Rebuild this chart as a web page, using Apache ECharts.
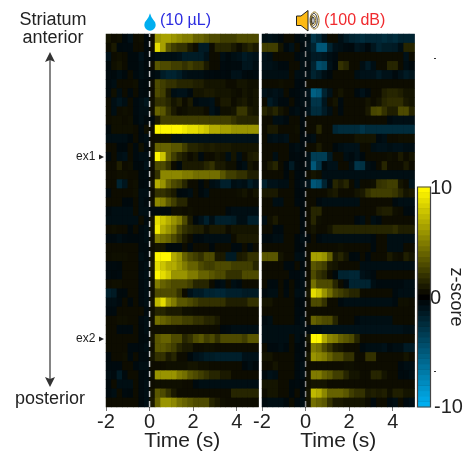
<!DOCTYPE html>
<html><head><meta charset="utf-8">
<style>html,body{margin:0;padding:0;background:#fff}#c{width:466px;height:454px}</style>
<script src="https://cdn.jsdelivr.net/npm/echarts@6/dist/echarts.min.js"></script>
</head><body><div id="c"></div>
<script>
// time-bin labels (start of each 0.25 s bin)
const timeBins = ['-2','-1.75','-1.5','-1.25','-1','-0.75','-0.5','-0.25','0','0.25','0.5','0.75','1','1.25','1.5','1.75','2','2.25','2.5','2.75','3','3.25','3.5','3.75','4','4.25','4.5','4.75'];
const xTicks = [-2, 0, 2, 4];
const barLabels = ['10', '0', '-10'];
// one row per striatal site, anterior to posterior; z-score
const waterZ = [
[.8,.5,.6,-.5,-1,.5,.6,-.5, .5,6,6.5,6.5,6,5.5,5,5,4,4,3.5,3,3,2.5,2.5,2.5,3,3,3,3],
[.5,1,-.5,-.6,-.6,.5,.5,-.5, .5,9,6.5,3.5,2.5,2,2,1,.5,-1.5,-1.5,.5,1.5,1.5,1.5,1,.5,1,1.5,1],
[-1,.5,.6,.5,-.5,-.5,-1,-.5, -.5,-.8,-.8,-.8,-.8,-1,-1.6,-1.6,-1.6,-1.6,-1,.5,.5,-.8,-.5,-.8,-1,-1.5,-1.2,-1],
[-.5,.6,.8,.5,-.5,-.5,-.8,-.5, .5,3.5,3,3,2.5,2.5,2,2.5,2,2,1,.5,.5,-.6,-.5,-.6,-.6,-1.2,-1.2,-.8],
[-.6,-.5,-.8,-.5,.5,-.6,-.8,-.6, -.6,-.8,-1.6,-2,-2,-1.6,-1,-.8,-.8,-.8,-.6,-.6,-.5,-.6,-.5,-1,-1,-.6,-.5,-.6],
[-.6,-.8,.5,.5,.5,.6,-.6,-.5, .5,3,2.5,2,2,1.5,1.5,1.5,1.2,1.2,.8,.8,.8,.8,.5,.5,.8,.8,.6,.6],
[-.6,.6,-.8,.5,-.6,.5,-.6,-.5, .5,3,2.5,1,-.8,-1,-1,-.6,.8,.8,1,1,.8,.8,.8,.6,.5,.8,.6,.8],
[.5,-.8,-1.2,-.8,.5,-.6,-.8,-1.2, .6,2,2,1.5,.8,1.2,.5,1,-.6,-.8,-.8,-1,.5,1,1,.5,.8,1,.6,.8],
[.5,-.8,.5,.6,.5,-.6,-.8,-.8, .6,4,3.5,2,1,.5,.6,.8,.8,.8,.5,-1,-.6,.6,.6,.8,2.2,2.2,1,.8],
[.5,.6,.6,.5,.6,-.5,-.8,-.5, -.5,1,2.5,2.5,2.5,2.5,2.5,2.5,2.5,2.5,2.5,2.5,2.5,2.5,2.5,2,1.5,1.5,1.5,1.5],
[-.5,.6,.6,.6,.6,.5,-.6,.6, .5,10,10,10,10,10,9.5,9,9,8.5,8,7,7,6.5,6.5,6,6,6,6,6],
[-.8,-.8,-.8,-.8,-.5,.5,-.6,-.8, .5,.6,.6,.6,-.8,-.8,-1,-1,-1,-1,-1,-1,-1,-1,-1,-1,-1,-1,-1,-1],
[.5,.5,-.5,-.5,.5,-.6,.6,-.5, .6,4,4,4,3.5,3.5,2.5,1.5,1.5,1.2,1,1.2,1,1,1,.8,.8,.8,.8,.8],
[-.5,.5,-.8,-1,.5,-.6,-.8,-.8, .6,10,8,4,2.5,1.5,1,.5,.8,-.6,.5,.5,.8,.6,-.8,.8,-.8,.5,1,1.2],
[.5,.5,1.2,.5,.6,-.5,-.5,-1, .5,3,3,2,.5,-.5,1,1,1,1,1.5,2,1,1,.6,.6,-.5,-.8,.8,.5],
[.5,.5,.6,.6,.5,.5,-.5,-.6, .5,2,5.5,5.5,5.5,5.5,5,5,4.5,4.5,4.5,4.5,4.5,3.5,2.5,2.5,2,2,1.2,1.2],
[.5,.5,-2,-1.2,.5,.6,-.5,-.6, .8,7,6,4,3,2.5,1.5,.5,.5,-.5,.5,-.8,-1,-1.8,-1.8,-.8,-1,-.8,-1.6,-1],
[-.6,.5,.5,.5,.5,.6,-.8,-.8, .5,2,2,1.5,1,-.5,-.6,-.8,.5,-.5,-.8,.5,.5,.5,.5,.5,.6,.8,.5,.8],
[.5,.5,.5,-.5,-.5,.5,-.8,-.6, .6,5.5,5,3.5,2.5,1.5,1.5,.5,.5,.5,.5,.5,.5,.5,.5,.5,.5,.5,.5,.5],
[-.6,-.8,-.8,-.8,-.8,.5,-.8,-.8, -.6,-.6,-.5,-.5,.6,.6,.5,.6,.5,.5,.5,.5,.5,.5,-.6,-.8,-.8,-.8,-.8,-.8],
[-.8,-.8,-.8,-.8,-.8,-.8,.5,-.6, .8,9,8,7,6,5,3,1,-.5,-1,-1.8,-.8,-1.8,-1.8,-1.8,-1.6,-.8,-.8,-1.8,-1.8],
[.5,.6,.5,.5,-.5,.5,-.6,-.8, .8,9.5,7,6,5,3,2,1.5,1.2,1.2,.6,1,1,1,.5,.8,.8,.8,.8,.8],
[-.6,-.6,-.8,-.6,-.5,-.5,-.6,-.8, .6,5,4.5,4,3,2,1,.5,-.6,-.6,-.8,-.8,-.8,-.8,-.8,.5,1,1,1,1],
[.5,.5,.5,.5,.5,.5,-.6,-.6, .5,.8,.8,-.5,-.5,-.5,.5,-.6,.5,.5,.5,-.5,.5,.5,.5,-.6,-.6,.5,-.6,.5],
[.5,.6,.6,.6,.5,.5,-.8,-.6, .8,10,10,10,7,6,4,3,2.5,2,3,3,1,1,-1.5,-1.5,1,1.2,2,2],
[-.6,-.6,-.5,.5,.5,.5,-.6,-.8, 1,9,8,7,7,6,5,4,4,3,2.5,2.5,3,3,3,2.5,2.5,2.5,2.5,1.5],
[-.6,-.5,-.6,.5,.5,.5,-.6,-.8, .8,10,9,8,6,6,6,5,5,4,4,3.5,3,3,2,2,2,3,3,3],
[.5,.6,.6,.5,.5,.5,-.6,-.8, .6,5,4,3.5,3,3,3,2.5,1.5,1.5,1.5,.5,-.6,-.8,.5,-.8,-.6,.5,.5,.5],
[-1.8,-1.5,-.5,-.5,.5,.5,-.6,-.8, .6,3,3,3,3,2,.5,-1,-1.5,-1.5,-2,-2,-2.2,-2.2,-1.8,-1.8,-1.8,-1.5,-1.5,-1.5],
[-.8,-.8,-.6,.5,-.5,.5,-.6,-.8, .8,7.5,9,6,5,3.5,3.5,3,2.5,2,2,2,2,2,1.2,1.2,1.2,1.2,2,2],
[-.6,-.6,.5,.5,.5,.5,.5,-.6, .6,1.5,1.5,1,1,1,.6,.6,.5,.5,.5,.5,.5,.5,.5,.5,.5,.5,.5,.5],
[.5,.5,.6,.6,.5,.5,-.6,-.8, .6,4.5,4,3.5,3,3,2.5,2.5,2,2,1.5,1.5,1,.5,.5,.5,.5,.5,.5,.5],
[.5,.5,-.6,-.6,-.6,.5,-.5,-.8, .6,.6,.6,.6,.6,.5,.5,.5,.5,.5,.5,.5,.5,-.5,-.6,-.8,-.8,-.8,-.8,-.8],
[.5,.5,.5,.5,.5,.5,-.5,-.6, .8,3.5,4,4,3,3,1.5,2,3,3.5,2.5,3,2,3,3,3,3,2.5,3.5,3.5],
[.5,.5,.5,.5,-.6,-.6,-.6,-.8, .6,3.5,3.5,3,2.5,1.5,1,1,.5,.5,.6,.6,.5,.5,.5,.5,.5,.5,.5,.5],
[-.5,.5,.5,.6,-.6,.5,-.6,-.6, .8,2,2,1,1.5,.5,.5,-.5,-1,-1.2,-1.6,-1.6,-1.8,-1.8,-1.8,-1.8,-1.8,-1,-1,-1],
[-.6,-.6,-.6,.5,.5,-.6,-.8,-.8, .5,.5,.5,.6,.6,.6,.6,.8,.8,.6,.6,.5,.5,.5,.5,.5,.5,-.5,-.8,-.5],
[-.8,-.6,-1.5,-.6,.5,.5,-.5,-.6, .6,6,6,6,6,5,4.5,3.5,3,2.5,2,1.5,1.5,1,1,.5,.5,.5,.5,.5],
[-.5,.5,-.8,-.8,-.8,.5,-.6,-.8, .5,.6,.6,.6,.6,.6,.5,.5,-.6,-.8,-.8,-.8,-.8,-.8,-.8,-.8,-.8,-.8,-.8,-.8],
[-.6,-.8,.5,-.6,-.5,.5,-.6,-.8, .8,3.5,3,2,1,.5,.5,.5,.5,.5,.5,.5,.5,.5,.5,1.5,1.5,1.5,1.5,1.5],
[.5,.5,.5,.5,.5,.5,-.5,-.8, 1,4,6,6,5.5,4.5,4,3.5,3,3,3,1.5,1,.6,.5,.5,.5,.5,.5,.5]
];
const soundZ = [
[-.8,-1,-.8,-.6,.5,.5,-.6,-.8, -.8,-3,-2.2,-1,.5,.5,-.8,-1.5,-2,-2.2,-2.5,-2.2,-2.2,-2.2,-2.5,-2.2,-2.5,-2,-2,-2],
[2.5,2.5,2.5,.8,-.6,-1,.5,-.6, -1,-2,-5,-5,-2,-1,-.8,-.6,-.5,-1.2,-1,-.5,-1.2,-2,-1.6,-1.6,-1.5,-.8,1.5,1.5],
[-1,-.8,.5,.5,.5,.5,-.6,-.8, -.8,-1.5,-1.5,-1.2,-.8,-.6,.5,.5,.5,.5,.5,.5,.5,.5,.5,.5,.5,.5,-1,.5],
[-1,-1,-.8,-.6,-.6,.5,.5,-.8, -.6,-2,-4.5,-4,-1,-.5,2,1.5,.5,.5,-.8,-1.5,-.8,.5,.5,1.5,1.5,.5,-.8,-.5],
[-.8,-.8,-.8,-.8,-.8,.5,-.8,-.8, -.8,-2,-1.5,-.8,-.5,.5,.5,.5,.5,-.8,-1,-1,-1,-1.5,-1,-1,-.6,-1,-1.5,-1.2],
[.5,.5,.5,.6,.5,.5,-.6,-.6, .5,.5,.5,.5,.5,.5,.5,.5,.5,.5,.5,.5,.5,.5,.5,.5,.5,.5,.5,.5],
[-1,-.8,-1,-.8,.5,-.5,-.6,-.8, -1,-5.5,-5,-2,-1,.5,.8,.5,.5,-.6,-1,-.6,.5,.5,1.2,1.5,1.5,1.2,.8,.8],
[.5,-1.5,-1,-.6,-.6,.5,-.6,-.8, -.8,-3,-3,-1.2,.5,.8,-.6,.5,.5,.5,.5,.8,.5,.8,1.5,1.8,1.8,1.8,1,.8],
[1.5,1,1.5,.8,.5,-.6,-.8,-.6, -1,-2.5,-2.5,-1.5,-.8,.5,-.6,.5,.5,.5,.5,1,2.8,3,2,1.2,1.2,3,3,1.5],
[.5,.5,-.8,-.8,-.6,.5,.5,-.6, .5,.5,.5,.5,.5,.5,.5,.5,.5,.5,.5,.5,.5,.5,.5,-.6,-.8,-.8,-.8,-.8],
[.5,1,1,.5,.5,.5,.6,-.5, .5,.5,1.5,.5,.5,-2.2,-2.5,-2.5,-2.5,-2.5,-3,-2.5,-2.5,-2.5,-2.5,-2.5,-2.5,-2.5,-2.5,-2.5],
[.5,-.8,-1,-.8,-1,.5,.5,-.6, -.6,-.8,.5,.5,.5,.5,.5,.5,.5,.8,.8,.8,.8,-.6,-.8,.5,.5,.6,.6,.6],
[.5,.5,.5,.5,.5,-.6,-.8,-.6, .5,.5,1,.5,.5,-.5,-.8,-1,-1,-1,.5,.5,-.8,-1,-1,-.8,-1,-1,-.8,-.8],
[.5,.5,-.8,.5,.5,-.5,-.6,-.5, -.8,-3.5,-3.5,-3.5,-1.5,.5,.5,-.8,-.6,-1,-.5,.5,.5,.5,.5,.6,.5,1,.5,.8],
[.5,1,1.5,.5,-.5,-1.5,-.6,-.5, -.8,-5,-3,-.6,-1,-1,.5,.5,-.8,-3,-2.8,-.8,-.6,.5,1.5,.5,.5,.5,1,.5],
[.5,.5,.5,.5,-.5,.5,-.6,-.6, .5,.8,.6,-.8,-.8,-.8,-.8,-.8,-.8,-.8,-.8,-.8,-.8,-.8,-.8,-.8,-.8,-.8,-.8,-.8],
[-1.8,-1,-1,-.8,-.8,.5,-.6,-.8, -1,-5,-4.5,-2,-.6,1.5,1,1.5,.5,-.8,.5,.5,.6,2,2.2,2.5,2.5,.8,.5,-1.2],
[1,1,1,.5,.5,.5,-.5,-.6, .5,.5,.5,.5,.8,1,.5,.5,.5,.8,1,2,2.5,2.5,2.5,2.5,2.2,1.5,.8,1],
[.5,.5,-.8,-.8,.5,.5,-.6,-.6, .5,.5,-.6,-.8,-.8,-.8,-.8,-.8,-.8,-.8,.5,.5,.5,.5,.5,.5,-.6,-.8,-.8,-.8],
[.5,.5,.5,.5,.5,.5,.5,-.5, .5,1.5,1.5,.5,.5,.5,.5,.5,.5,.5,.5,.5,.5,1,1.2,1.2,.6,.5,-.6,-.6],
[-.8,.6,1,.5,.5,.5,.5,-.6, .5,1.5,.6,.5,.5,.5,.5,.5,.5,-.6,-.8,.5,-.8,-.6,.5,.5,.5,.5,.5,.5],
[.5,.5,-.6,-.6,.5,.5,.5,-.6, .5,.8,.5,.5,.8,1.5,1.5,1.5,1.5,1.5,1.5,1.5,1.5,1.5,1.5,1.5,1.8,1.2,1.2,1.2],
[-.6,-.6,-.8,-.8,.5,.5,-.5,-.8, -.5,.5,-.6,-.8,-.8,-.8,-.8,-.8,-.8,-.8,-.8,-.8,-.6,.5,.5,-.8,-.8,-.8,-.8,-.8],
[.5,.5,.5,.5,.5,.5,-.5,-.6, .5,.5,.5,.5,.5,.5,.6,.5,.5,.5,.5,.5,-.6,.5,.5,-.8,-.8,-.8,.5,.5],
[3.5,3.5,3.5,.8,.5,.5,-.8,-.8, .5,6.5,6.5,6,4,1,1.5,.8,-.5,-.6,.5,-.6,.5,.5,.5,1,.6,.5,1.2,.8],
[.5,.5,.5,.5,-.6,-.6,.5,-.6, .5,3.5,3,2.5,1,.8,.5,.5,.5,.5,-.8,-.8,-.8,-.8,-.8,-.8,-.8,-.8,-.8,-.8],
[.5,.5,.5,.5,.5,-.6,-.6,-.8, .5,3,2,1.5,.5,-.5,-2,-2,-2.2,-2.2,-1,-.8,-.6,.5,.5,.5,.5,.5,.5,.5],
[.5,-.6,-.6,.5,-.5,.5,-.6,-.8, .6,4.5,3,3,3,1.5,.5,-.6,-2,-2,-2,-2,-.8,-.6,-.6,-.6,-.6,-.6,-.8,-.8],
[-.6,-.8,-.8,.5,-.6,.5,-.8,-.8, .8,9,8,6,4.5,3,2.5,2,1.5,1.5,.5,.5,.5,.5,.5,.5,-.6,-.8,-.8,-.8],
[.8,.8,.5,.5,.5,.5,-.5,-.6, .5,3,3,2,.5,.5,-.6,-.8,-.8,-.8,-.8,-.8,-.8,-.8,-.8,-.8,-.6,.6,.6,.5],
[.5,.5,.5,.5,.5,.5,-.6,-.6, .5,.5,.5,.5,.5,.5,.5,.5,.5,.5,.5,.5,.5,.5,.5,.5,.5,.5,.5,.5],
[-.6,-.8,.5,.5,.5,.5,-.6,-.8, .5,4,3.5,3,3,1.5,.5,.5,.5,-.6,-.8,-.8,-.8,-.8,-.8,-.8,.5,.5,.5,.5],
[-.8,-.8,-.8,-.8,-.8,-.8,-.8,-.8, -.6,-.8,-.8,-1,-1,-1,-1,-1,-1,-1,-1,-1,-1,-1,-1,-1,-1,-1,-.8,-.8],
[-.8,-.8,-.8,-.8,-.8,.5,-.8,-.6, .8,10,10,7,5.5,5,4,3.5,3,1.5,.5,.5,.5,.5,.5,.5,.5,.5,.5,.5],
[.5,-.6,-.6,-.8,-.6,.5,-.5,-.6, .5,5,4.5,3,2,1,.8,.5,.5,.5,-.6,-.8,-.8,-.8,-1,-.6,-.8,-.8,-1.5,-1.5],
[.8,.8,.5,.5,.5,.5,-.6,-.6, .8,6,5.5,5,4,3,3,2,2,.5,.5,2,2,.5,.5,.5,.5,.5,.8,.5],
[.5,.5,.8,.5,.5,.5,-.6,-.8, .5,.5,.5,.5,.5,.5,.5,.6,.6,.5,.5,.5,.5,.5,.5,.5,.5,-.6,-.8,-.8],
[-.6,-1,-.8,.5,.5,.5,-.6,-.8, .6,5,5,4,3.5,2.5,2.5,1.5,.8,.8,.5,.5,1.5,1.5,.8,.5,.5,-.6,-.6,-.8],
[.8,.8,.8,.5,.5,-.5,-.6,-.5, .6,.8,.8,.8,.5,.5,.5,.5,.5,.5,.5,.5,.5,.5,.5,.5,.5,.5,.5,.5],
[.5,.8,.8,.5,.5,-.5,.5,-.6, .8,7.5,7,5.5,4,4,4,3.5,2.5,2,2,1,1.2,1,1.2,.6,1.2,1.2,.8,.8],
[-.6,-.8,-.8,-.8,-.5,.5,-.6,-.8, .8,4.5,4,3.5,2,1,1,.8,.8,.8,.8,.5,-.6,.5,.5,-.6,-.8,.5,-.6,-.8]
];
const barLevels = [];
for (let v = -10; v <= 10; v += 0.5) barLevels.push(String(v));

const FF = '"Liberation Sans", Arial, sans-serif';
const rowNames = waterZ.map((_, i) => 'r' + (i + 1));
const cells = m => m.flatMap((r, y) => r.map((v, x) => [x, y, v]));
const panels = [
  { left: 106, z: waterZ, dash: '#c4c4c4' },
  { left: 262, z: soundZ, dash: '#8a8a8a' }
];
const grid = [], xAxis = [], yAxis = [], series = [];
panels.forEach((p, i) => {
  grid.push({ left: p.left, top: 34, width: 152.5, height: 373, outerBoundsMode: 'none',
    show: true, backgroundColor: '#000', borderWidth: 0 });
  xAxis.push({ gridIndex: i, type: 'category', data: timeBins, show: false, position: 'top' });
  xAxis.push({
    gridIndex: i, type: 'value', min: -2, max: 5, interval: 2, position: 'bottom',
    axisLine: { show: false }, splitLine: { show: false },
    axisTick: { show: true, length: 4, lineStyle: { color: '#777', width: 1 }, customValues: xTicks },
    axisLabel: { fontFamily: FF, fontSize: 20, color: '#222', margin: 5, hideOverlap: false, customValues: xTicks },
    name: 'Time (s)', nameLocation: 'middle', nameGap: 24, nameMoveOverlap: false,
    nameTextStyle: { fontFamily: FF, fontSize: 21, color: '#222' }
  });
  yAxis.push({ gridIndex: i, type: 'category', data: rowNames, inverse: true, show: false });
  yAxis.push({ gridIndex: i, type: 'value', min: 0, max: 1, show: false });
  series.push({
    type: 'heatmap', xAxisIndex: i * 2, yAxisIndex: i * 2,
    data: cells(p.z), silent: true, progressive: 0, animation: false,
    itemStyle: { borderWidth: 0 }
  });
  series.push({
    type: 'line', xAxisIndex: i * 2 + 1, yAxisIndex: i * 2 + 1, data: [[0, 0], [0, 1]],
    showSymbol: false, silent: true, animation: false, z: 5,
    lineStyle: { color: p.dash, width: 1.5, type: [6, 4] }
  });
});
// colour bar
grid.push({ left: 418, top: 187, width: 12, height: 220, outerBoundsMode: 'none',
  show: true, backgroundColor: '#000', borderWidth: 0 });
xAxis.push({ gridIndex: 2, type: 'category', data: ['z'], show: false });
yAxis.push({
  gridIndex: 2, type: 'category', data: barLevels,
  axisLine: { show: false }, axisLabel: { show: false },
  axisTick: { show: true, inside: true, length: 3, interval: 3, alignWithLabel: true, lineStyle: { color: '#555' } }
});
series.push({
  type: 'heatmap', xAxisIndex: 4, yAxisIndex: 4, silent: true, animation: false,
  data: barLevels.map((v, i) => [0, i, +v])
});

const txt = (text, x, y, size, fill, align) => ({
  type: 'text', z: 20, silent: true,
  style: { text, x, y, fill: fill || '#222', font: size + 'px ' + FF, textAlign: align || 'center', textVerticalAlign: 'middle' }
});
const poly = (pts, fill, stroke) => ({
  type: 'polygon', z: 20, silent: true, shape: { points: pts },
  style: { fill, stroke: stroke || null, lineWidth: 1 }
});
const ell = (cx, rx, ry, stroke) => ({
  type: 'ellipse', z: 20, silent: true, shape: { cx, cy: 20.5, rx, ry },
  style: { fill: 'none', stroke, lineWidth: 1 }
});
const graphic = { elements: [
  txt('Striatum', 53, 20, 18), txt('anterior', 53, 38, 18), txt('posterior', 50, 399, 18),
  { type: 'line', z: 20, silent: true, shape: { x1: 50, y1: 58, x2: 50, y2: 381 }, style: { stroke: '#333', lineWidth: 1.2 } },
  poly([[50, 52], [55, 62], [50, 60], [45, 62]], '#333'),
  poly([[50, 387], [55, 377], [50, 379], [45, 377]], '#333'),
  txt('ex1', 76, 157, 12, '#222', 'left'), poly([[99, 154.5], [104, 157], [99, 159.5]], '#222'),
  txt('ex2', 76, 339, 12, '#222', 'left'), poly([[99, 336.5], [104, 339], [99, 341.5]], '#222'),
  { type: 'circle', z: 20, silent: true, shape: { cx: 150, cy: 25, r: 5.7 }, style: { fill: '#00aeef' } },
  poly([[150, 13.3], [148.6, 17], [146.6, 20], [144.8, 23], [155.2, 23], [153.4, 20], [151.4, 17]], '#00aeef'),
  txt('(10 µL)', 160, 21, 16, '#2b2be0', 'left'),
  poly([[296.5, 16], [301, 16], [308, 10.5], [308, 31], [301, 25.5], [296.5, 25.5]], '#fdb913', '#222'),
  ell(314.5, 4.5, 8.5, '#8a6a10'), ell(314, 3.2, 7, '#222'), ell(313.5, 2.2, 5, '#8a6a10'), ell(313, 1.2, 3.5, '#222'),
  txt('(100 dB)', 324, 21, 16, '#f02a2e', 'left'),
  txt(barLabels[0], 430, 188, 20, '#222', 'left'),
  txt(barLabels[1], 430, 298, 20, '#222', 'left'),
  txt(barLabels[2], 434, 407, 20, '#222', 'left'),
  { type: 'text', z: 20, silent: true, x: 456, y: 297, rotation: -Math.PI / 2,
    style: { text: 'z-score', x: 0, y: 0, fill: '#222', font: '18px ' + FF, textAlign: 'center', textVerticalAlign: 'middle' } },
  { type: 'rect', z: 20, silent: true, shape: { x: 417.5, y: 187, width: 13, height: 220 }, style: { fill: 'none', stroke: '#444', lineWidth: 1.2 } },
  { type: 'rect', z: 20, silent: true, shape: { x: 434, y: 58, width: 2, height: 1 }, style: { fill: '#333' } },
  { type: 'rect', z: 20, silent: true, shape: { x: 434, y: 371, width: 2, height: 1 }, style: { fill: '#333' } },
  { type: 'rect', z: 20, silent: true, shape: { x: 265, y: 33, width: 3, height: 1 }, style: { fill: '#777' } }
] };

const chart = echarts.init(document.getElementById('c'), null, { renderer: 'canvas' });
chart.setOption({
  animation: false, backgroundColor: '#fff', textStyle: { fontFamily: FF },
  grid, xAxis, yAxis, series, graphic,
  visualMap: { show: false, type: 'continuous', min: -10, max: 10, seriesIndex: [0, 2, 4],
    inRange: { color: ['#00aeef', '#000000', '#fff600'] } }
});
</script></body></html>
